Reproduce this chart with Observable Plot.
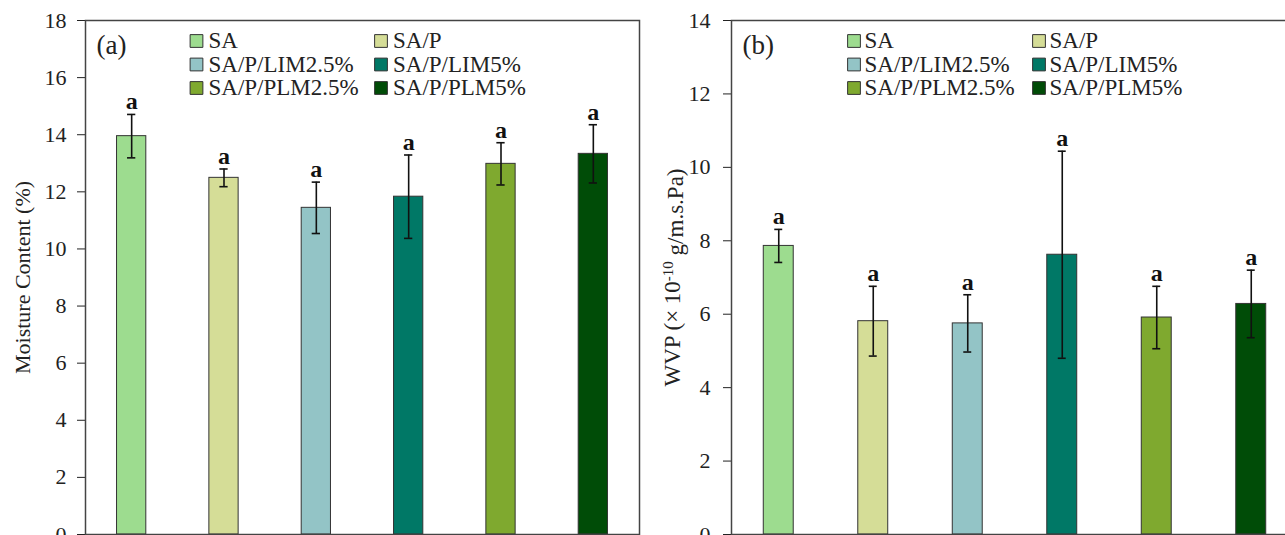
<!DOCTYPE html>
<html>
<head>
<meta charset="utf-8">
<script src="https://cdn.jsdelivr.net/npm/d3@7"></script>
<script src="https://cdn.jsdelivr.net/npm/@observablehq/plot@0.6"></script>
<style>
  html, body { margin: 0; padding: 0; overflow: hidden; background: #fff; width: 1285px; height: 535px; }
  #wrap { position: relative; width: 1285px; height: 535px; overflow: hidden; }
  .panel { position: absolute; top: 0; }
</style>
</head>
<body>
<div id="wrap"></div>
<script>
// ---- data ----
const categories = ["SA", "SA/P", "SA/P/LIM2.5%", "SA/P/LIM5%", "SA/P/PLM2.5%", "SA/P/PLM5%"];
const colors = ["#9ddc8f", "#d5dd97", "#93c4c6", "#007866", "#7fa92f", "#004c07"];
const moistureMean = [13.95, 12.49, 11.44, 11.83, 12.98, 13.33];
const moistureSD = [0.76, 0.31, 0.90, 1.46, 0.74, 1.02];
const wvpMean = [7.86, 5.81, 5.75, 7.62, 5.91, 6.28];
const wvpSD = [0.45, 0.95, 0.78, 2.82, 0.85, 0.92];
const moistureLetters = ["a", "a", "a", "a", "a", "a"];
const wvpLetters = ["a", "a", "a", "a", "a", "a"];
const moistureTicks = [0, 2, 4, 6, 8, 10, 12, 14, 16, 18];
const wvpTicks = [0, 2, 4, 6, 8, 10, 12, 14];
const panelTags = ["(a)", "(b)"];
const moistureLabel = "Moisture Content (%)";
const wvpLabelParts = ["WVP (× 10", "-10", " g/m.s.Pa)"];

const FONT = "'Liberation Serif', 'Times New Roman', serif";

function makePanel(opts) {
  const rows = categories.map((c, i) => ({cat: c, mean: opts.means[i], sd: opts.sds[i], sig: opts.letters[i], color: colors[i]}));
  const legendMarks = [];
  categories.forEach((c, i) => {
    const col = i % 2, row = Math.floor(i / 2);
    legendMarks.push(Plot.dot([c], {
      frameAnchor: "top-left", dx: opts.legSq + col * opts.legGap, dy: 20.5 + row * 23.5,
      symbol: "square", r: 7.2, fill: colors[i], stroke: "#333", strokeWidth: 1
    }));
    legendMarks.push(Plot.text([c], {
      frameAnchor: "top-left", dx: opts.legTx + col * opts.legGap, dy: 20.5 + row * 23.5,
      text: d => d, textAnchor: "start", lineAnchor: "middle", fontSize: 23, fill: "#222"
    }));
  });
  const plot = Plot.plot({
    width: opts.width, height: 564,
    marginLeft: opts.marginLeft, marginRight: opts.marginRight, marginTop: 20, marginBottom: 30,
    style: {fontFamily: FONT, fontSize: "21px", color: "#222", background: "#fff", overflow: "visible"},
    x: {domain: categories, paddingInner: 0.683, paddingOuter: 0.3415, round: false, axis: null},
    y: {domain: [0, opts.yMax], ticks: opts.ticks},
    marks: [
      Plot.barY(rows, {x: "cat", y: "mean", fill: "color", stroke: "#333", strokeWidth: 1}),
      Plot.ruleX(rows, {x: "cat", y1: d => d.mean - d.sd, y2: d => d.mean + d.sd, stroke: "#111", strokeWidth: 1.6}),
      Plot.tickY(rows, {x: "cat", y: d => d.mean + d.sd, stroke: "#111", strokeWidth: 1.6, insetLeft: opts.capInset, insetRight: opts.capInset}),
      Plot.tickY(rows, {x: "cat", y: d => d.mean - d.sd, stroke: "#111", strokeWidth: 1.6, insetLeft: opts.capInset, insetRight: opts.capInset}),
      Plot.text(rows, {x: "cat", y: d => d.mean + d.sd, text: "sig", dy: -5, lineAnchor: "bottom", fontWeight: "bold", fontSize: 24, fill: "#111"}),
      Plot.axisY({ticks: opts.ticks, tickSize: 8, tickPadding: opts.tickPadding, label: null, fontSize: 22, stroke: "#222"}),
      Plot.frame({stroke: "#444", strokeWidth: 1.5}),
      Plot.text([opts.tag], {frameAnchor: "top-left", dx: 11, dy: 33, text: d => d, lineAnchor: "bottom", textAnchor: "start", fontSize: 27, fill: "#222"}),
      Plot.text([opts.labelText], {frameAnchor: "left", dx: opts.labelDx, rotate: -90, text: d => d, textAnchor: "middle", lineAnchor: "middle", fontSize: opts.labelSize, fill: "#222"}),
      ...legendMarks
    ]
  });
  plot.classList.add("panel");
  plot.style.left = opts.left + "px";
  return plot;
}

const wrap = document.getElementById("wrap");

const left = makePanel({
  means: moistureMean, sds: moistureSD, letters: moistureLetters, yMax: 18, ticks: moistureTicks,
  width: 660, marginLeft: 85, marginRight: 21, left: 0, capInset: 10.5, tickPadding: 11,
  tag: panelTags[0], labelText: moistureLabel, labelDx: -63, labelSize: 22, legSq: 111, legTx: 123, legGap: 184.5
});
wrap.appendChild(left);

const right = makePanel({
  means: wvpMean, sds: wvpSD, letters: wvpLetters, yMax: 14, ticks: wvpTicks,
  width: 663, marginLeft: 86, marginRight: 10, left: 645, capInset: 11, tickPadding: 13,
  tag: panelTags[1], labelText: wvpLabelParts.join(""), labelDx: -59, labelSize: 23, legSq: 122.5, legTx: 133, legGap: 185
});
wrap.appendChild(right);

// superscript in the WVP label
const fullLabel = wvpLabelParts.join("");
d3.select(right).selectAll("text").each(function () {
  if (this.textContent === fullLabel) {
    const lab = d3.select(this);
    lab.text(null);
    lab.append("tspan").text(wvpLabelParts[0]);
    lab.append("tspan").attr("dy", "-0.45em").attr("font-size", "15px").text(wvpLabelParts[1]);
    lab.append("tspan").attr("dy", "0.45em").text(wvpLabelParts[2]);
  }
});
</script>
</body>
</html>
